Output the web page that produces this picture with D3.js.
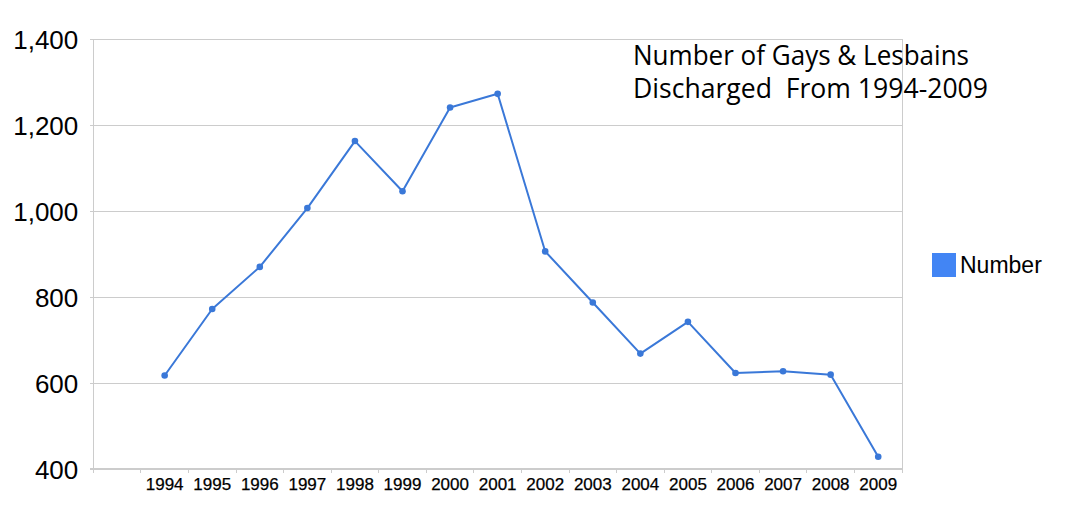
<!DOCTYPE html>
<html>
<head>
<meta charset="utf-8">
<script src="https://cdn.jsdelivr.net/npm/d3@7"></script>
<style>
  html, body { margin: 0; padding: 0; background: #ffffff; }
  svg { display: block; }
</style>
</head>
<body>
<svg id="chart" width="1070" height="520"></svg>
<script>
const years = ["1994","1995","1996","1997","1998","1999","2000","2001","2002","2003","2004","2005","2006","2007","2008","2009"];
const discharged = [617, 772, 870, 1007, 1163, 1046, 1241, 1273, 906, 787, 668, 742, 623, 627, 619, 428];
const yTicks = [400, 600, 800, 1000, 1200, 1400];
const seriesName = "Number";
const titleLines = ["Number of Gays & Lesbains", "Discharged  From 1994-2009"];

(function () {
const svg = d3.select("#chart");
const pLeft = 93.3, pRight = 902, pTop = 39.3, pBottom = 468.7;
const lineColor = "#3a78d8";
const gridColor = "#cccccc";

// leading empty band, as in the reference
const x = d3.scaleBand().domain([""].concat(years)).range([pLeft, pRight]).paddingInner(0).paddingOuter(0);
const y = d3.scaleLinear().domain([400, 1400]).range([pBottom, pTop]);

// gridlines
const yAxis = d3.axisLeft(y).tickValues(yTicks).tickSize(-(pRight - pLeft)).tickFormat(d3.format(","));
const gy = svg.append("g").attr("transform", `translate(${pLeft},0)`).call(yAxis);
gy.select(".domain").remove();
gy.selectAll(".tick line").attr("stroke", gridColor).attr("x1", -3).attr("shape-rendering", "crispEdges");
gy.selectAll(".tick text")
  .attr("x", -15)
  .attr("dy", "0.36em")
  .style("font-family", "'Liberation Sans', Arial, sans-serif")
  .style("font-size", "26px")
  .attr("fill", "#000");

// left and right vertical lines
svg.append("line").attr("x1", pLeft).attr("x2", pLeft).attr("y1", pTop).attr("y2", pBottom)
  .attr("stroke", gridColor).attr("shape-rendering", "crispEdges");
svg.append("line").attr("x1", pRight).attr("x2", pRight).attr("y1", pTop).attr("y2", pBottom)
  .attr("stroke", gridColor).attr("shape-rendering", "crispEdges");

// x axis with ticks at band boundaries
const boundaries = x.domain().map(d => x(d)).concat([pRight]);
svg.append("g").selectAll("line").data(boundaries).join("line")
  .attr("x1", d => d).attr("x2", d => d).attr("y1", pBottom).attr("y2", pBottom + 4)
  .attr("stroke", gridColor).attr("shape-rendering", "crispEdges");
svg.append("line").attr("x1", pLeft - 3).attr("x2", pRight).attr("y1", pBottom).attr("y2", pBottom)
  .attr("stroke", gridColor).attr("shape-rendering", "crispEdges");

svg.append("g").selectAll("text").data(years).join("text")
  .attr("x", d => x(d) + x.bandwidth() / 2)
  .attr("y", 489.5)
  .attr("text-anchor", "middle")
  .style("font-family", "'Liberation Sans', Arial, sans-serif")
  .style("font-size", "17px")
  .attr("fill", "#000")
  .attr("stroke", "#000").attr("stroke-width", 0.25)
  .text(d => d);

// line
const pts = years.map((yr, i) => ({yr, v: discharged[i]}));
const line = d3.line().x(d => x(d.yr) + x.bandwidth() / 2).y(d => y(d.v));
svg.append("path").datum(pts).attr("d", line)
  .attr("fill", "none").attr("stroke", lineColor).attr("stroke-width", 2).attr("stroke-linejoin", "round");
svg.append("g").selectAll("circle").data(pts).join("circle")
  .attr("cx", d => x(d.yr) + x.bandwidth() / 2).attr("cy", d => y(d.v)).attr("r", 3.3)
  .attr("fill", lineColor);

// title: one text element with two lines
const titleWidths = [336, 355];
const title = svg.append("text")
  .style("font-family", "'Open Sans', 'Noto Sans', sans-serif")
  .style("font-size", "27px")
  .style("white-space", "pre")
  .attr("fill", "#000");
title.selectAll("tspan").data(titleLines).join("tspan")
  .attr("x", 633)
  .attr("y", (d, i) => 65 + i * 33)
  .attr("textLength", (d, i) => titleWidths[i])
  .attr("lengthAdjust", "spacingAndGlyphs")
  .text(d => d);

// legend
svg.append("rect").attr("x", 932).attr("y", 253).attr("width", 24).attr("height", 24).attr("fill", "#4285f4");
svg.append("text").attr("x", 960).attr("y", 273)
  .style("font-family", "'Liberation Sans', Arial, sans-serif")
  .style("font-size", "23px")
  .attr("fill", "#000")
  .text(seriesName);
})();
</script>
</body>
</html>
